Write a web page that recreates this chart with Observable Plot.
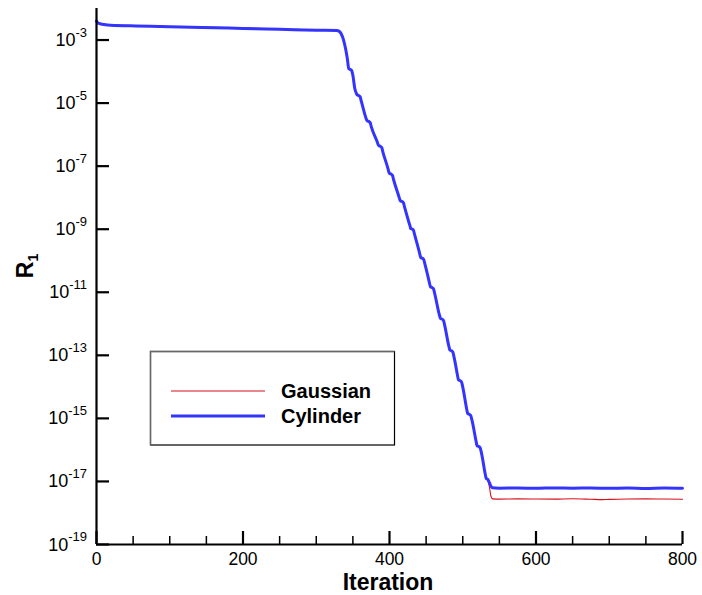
<!DOCTYPE html>
<html><head><meta charset="utf-8">
<script src="https://cdn.jsdelivr.net/npm/d3@7"></script>
<script src="https://cdn.jsdelivr.net/npm/@observablehq/plot@0.6"></script>
<style>body{margin:0;background:#fff} #chart{width:702px;height:595px}</style>
</head><body><div id="chart"></div>
<script>
// Cylinder residual history (iteration, R1)
const cylIter = [0,2,6,15,46,100,143,200,250,300,328,331,334,337,340,342.5,
  344.4,346.4,348.4,350,352.6,354.9,355.9,357.9,359.9,361.5,367.4,368.6,369.6,371.6,373.6,375.2,383.1,384.4,385.4,387.4,389.4,391,398.1,399.1,400,402,404,405.6,413,414.1,415,417,419,420.6,427.4,428.4,428.7,430.7,432.7,434.3,441.3,442.1,442.7,444.7,446.7,448.3,454.6,455.4,456,458,460,461.6,468,469,469.6,471.6,473.6,475.2,481,481.9,482.3,484.3,486.3,487.9,493,493.7,494.2,496.2,498.2,499.8,505.6,506.3,506.9,508.9,510.9,512.5,518.4,519.1,519.7,521.7,523.7,525.3,530.8,531.5,532,534,536.5,538.5,540.2,
  550,575,600,625,650,675,700,725,750,775,800];
const cylR = [3.98e-3,3.47e-3,3.24e-3,3.02e-3,2.82e-3,2.63e-3,2.51e-3,2.34e-3,2.19e-3,2.04e-3,2.00e-3,1.91e-3,1.58e-3,1.05e-3,5.37e-4,2.51e-4,
  1.23e-4,1.17e-4,1.07e-4,7.6e-5,2.9e-5,2.0e-5,1.82e-5,1.74e-5,1.58e-5,1.15e-5,3.6e-6,3.0e-6,2.75e-6,2.63e-6,2.40e-6,1.75e-6,6.0e-7,4.9e-7,4.47e-7,4.27e-7,3.89e-7,2.8e-7,8.0e-8,6.5e-8,5.89e-8,5.62e-8,5.13e-8,3.7e-8,1.05e-8,8.7e-9,7.94e-9,7.59e-9,6.92e-9,5.0e-9,1.4e-9,1.17e-9,1.07e-9,1.02e-9,9.3e-10,6.7e-10,1.65e-10,1.38e-10,1.26e-10,1.20e-10,1.10e-10,7.9e-11,1.95e-11,1.62e-11,1.48e-11,1.41e-11,1.29e-11,9.3e-12,1.95e-12,1.62e-12,1.48e-12,1.41e-12,1.29e-12,9.3e-13,1.95e-13,1.62e-13,1.48e-13,1.41e-13,1.29e-13,9.3e-14,2.2e-14,1.82e-14,1.66e-14,1.58e-14,1.45e-14,1.04e-14,1.85e-15,1.55e-15,1.41e-15,1.35e-15,1.23e-15,8.9e-16,1.78e-16,1.48e-16,1.35e-16,1.29e-16,1.17e-16,8.5e-17,1.66e-17,1.38e-17,1.26e-17,1.17e-17,9.0e-18,7.0e-18,6.31e-18,
  6.10e-18,6.20e-18,6.05e-18,6.25e-18,6.10e-18,6.20e-18,6.05e-18,6.15e-18,6.00e-18,6.20e-18,6.10e-18];

// Gaussian residual history (iteration, R1)
const gauIter = [0,2,6,15,46,100,143,200,250,300,328,331,334,337,340,342.5,
  344.4,346.4,348.4,350,352.6,354.9,355.9,357.9,359.9,361.5,367.4,368.6,369.6,371.6,373.6,375.2,383.1,384.4,385.4,387.4,389.4,391,398.1,399.1,400,402,404,405.6,413,414.1,415,417,419,420.6,427.4,428.4,428.7,430.7,432.7,434.3,441.3,442.1,442.7,444.7,446.7,448.3,454.6,455.4,456,458,460,461.6,468,469,469.6,471.6,473.6,475.2,481,481.9,482.3,484.3,486.3,487.9,493,493.7,494.2,496.2,498.2,499.8,505.6,506.3,506.9,508.9,510.9,512.5,518.4,519.1,519.7,521.7,523.7,525.3,530.8,531.5,532,534,536.5,538.5,541,
  550,575,600,625,650,675,690,700,725,750,775,800];
const gauR = [4.07e-3,3.55e-3,3.31e-3,3.09e-3,2.88e-3,2.69e-3,2.57e-3,2.40e-3,2.24e-3,2.09e-3,2.04e-3,1.95e-3,1.60e-3,1.06e-3,5.40e-4,2.52e-4,
  1.23e-4,1.17e-4,1.07e-4,7.6e-5,2.9e-5,2.0e-5,1.82e-5,1.74e-5,1.58e-5,1.15e-5,3.6e-6,3.0e-6,2.75e-6,2.63e-6,2.40e-6,1.75e-6,6.0e-7,4.9e-7,4.47e-7,4.27e-7,3.89e-7,2.8e-7,8.0e-8,6.5e-8,5.89e-8,5.62e-8,5.13e-8,3.7e-8,1.05e-8,8.7e-9,7.94e-9,7.59e-9,6.92e-9,5.0e-9,1.4e-9,1.17e-9,1.07e-9,1.02e-9,9.3e-10,6.7e-10,1.65e-10,1.38e-10,1.26e-10,1.20e-10,1.10e-10,7.9e-11,1.95e-11,1.62e-11,1.48e-11,1.41e-11,1.29e-11,9.3e-12,1.95e-12,1.62e-12,1.48e-12,1.41e-12,1.29e-12,9.3e-13,1.95e-13,1.62e-13,1.48e-13,1.41e-13,1.29e-13,9.3e-14,2.2e-14,1.82e-14,1.66e-14,1.58e-14,1.45e-14,1.04e-14,1.85e-15,1.55e-15,1.41e-15,1.35e-15,1.23e-15,8.9e-16,1.78e-16,1.48e-16,1.35e-16,1.29e-16,1.17e-16,8.5e-17,1.66e-17,1.38e-17,1.26e-17,1.1e-17,6.5e-18,3.4e-18,2.8e-18,
  2.75e-18,2.80e-18,2.78e-18,2.75e-18,2.82e-18,2.72e-18,2.65e-18,2.70e-18,2.78e-18,2.80e-18,2.76e-18,2.72e-18];

const seriesNames = ["Gaussian", "Cylinder"];
const seriesColors = ["#d8101a", "#3434ff"];
const seriesWidths = [1.1, 3];
const xMajor = [0, 200, 400, 600, 800];
const xMinor = [50,100,150,250,300,350,450,500,550,650,700,750];
const yExponents = [-3,-5,-7,-9,-11,-13,-15,-17,-19];
const xTitle = "Iteration";

const cylData = cylIter.map((t, i) => ({iter: t, r: cylR[i]}));
const gauData = gauIter.map((t, i) => ({iter: t, r: gauR[i]}));
const yTickVals = yExponents.map(e => Math.pow(10, e));

const font = "'Liberation Sans', Arial, Helvetica, sans-serif";
const plot = Plot.plot({
  width: 702, height: 595,
  marginLeft: 96, marginRight: 20, marginTop: 8, marginBottom: 51,
  style: {fontFamily: font, background: "#fff", color: "#000"},
  x: {domain: [0, 800]},
  y: {type: "log", domain: [1e-19, 1e-2]},
  marks: [
    Plot.line(gauData, {x: "iter", y: "r", stroke: seriesColors[0], strokeWidth: seriesWidths[0], curve: "monotone-x"}),
    Plot.line(cylData, {x: "iter", y: "r", stroke: seriesColors[1], strokeWidth: seriesWidths[1], curve: "monotone-x"}),
    Plot.ruleX([0], {strokeWidth: 2.2}),
    Plot.ruleY([1e-19], {strokeWidth: 2.2}),
    Plot.axisX(xMajor, {tickSize: -13, tickPadding: 21, fontSize: 17.5, strokeWidth: 2.2, label: null, tickFormat: d => String(d)}),
    Plot.axisX(xMinor, {tickSize: -8, tickFormat: () => "", strokeWidth: 1.5, label: null}),
    Plot.axisY(yTickVals, {tickSize: -13, tickFormat: () => "", strokeWidth: 2.2, label: null})
  ]
});
document.getElementById("chart").appendChild(plot);

const svg = d3.select(plot);
const ys = plot.scale("y");
const xs = plot.scale("x");
// y tick labels with superscript exponents
yExponents.forEach(e => {
  const yy = ys.apply(Math.pow(10, e));
  const t = svg.append("text").attr("x", xs.apply(0) - 9).attr("y", yy + 6.5)
    .style("text-anchor", "end").style("font-family", font).style("font-size", "18px").attr("fill", "#000");
  t.append("tspan").text("10");
  t.append("tspan").style("font-size", "13px").attr("dy", -9.5).text(String(e));
});
// axis titles
svg.append("text").attr("x", 388).attr("y", 589.5).style("text-anchor", "middle")
  .style("font-family", font).style("font-weight", "bold").style("font-size", "23px").text(xTitle);
const rl = svg.append("text").attr("transform", "translate(33,266) rotate(-90)").style("text-anchor", "middle")
  .style("font-family", font).style("font-weight", "bold").style("font-size", "23px");
rl.append("tspan").text("R");
rl.append("tspan").style("font-size", "14px").attr("dy", 5).text("1");

// legend box
const lg = svg.append("g");
lg.append("rect").attr("x", 150.5).attr("y", 351.5).attr("width", 244).attr("height", 93.5)
  .attr("fill", "#fff").attr("stroke", "#000").attr("stroke-width", 1.2);
lg.append("path").attr("d", "M150.5,445V351.5H394.5").attr("fill", "none").attr("stroke", "#666").attr("stroke-width", 1.4);
seriesNames.forEach((name, i) => {
  const yy = 391 + i * 25;
  lg.append("line").attr("x1", 171).attr("x2", 265).attr("y1", yy).attr("y2", yy)
    .attr("stroke", seriesColors[i]).attr("stroke-width", seriesWidths[i]);
  lg.append("text").attr("x", 281).attr("y", yy + 7).style("text-anchor", "start").style("font-family", font)
    .style("font-weight", "bold").style("font-size", "20px").text(name);
});
</script></body></html>
